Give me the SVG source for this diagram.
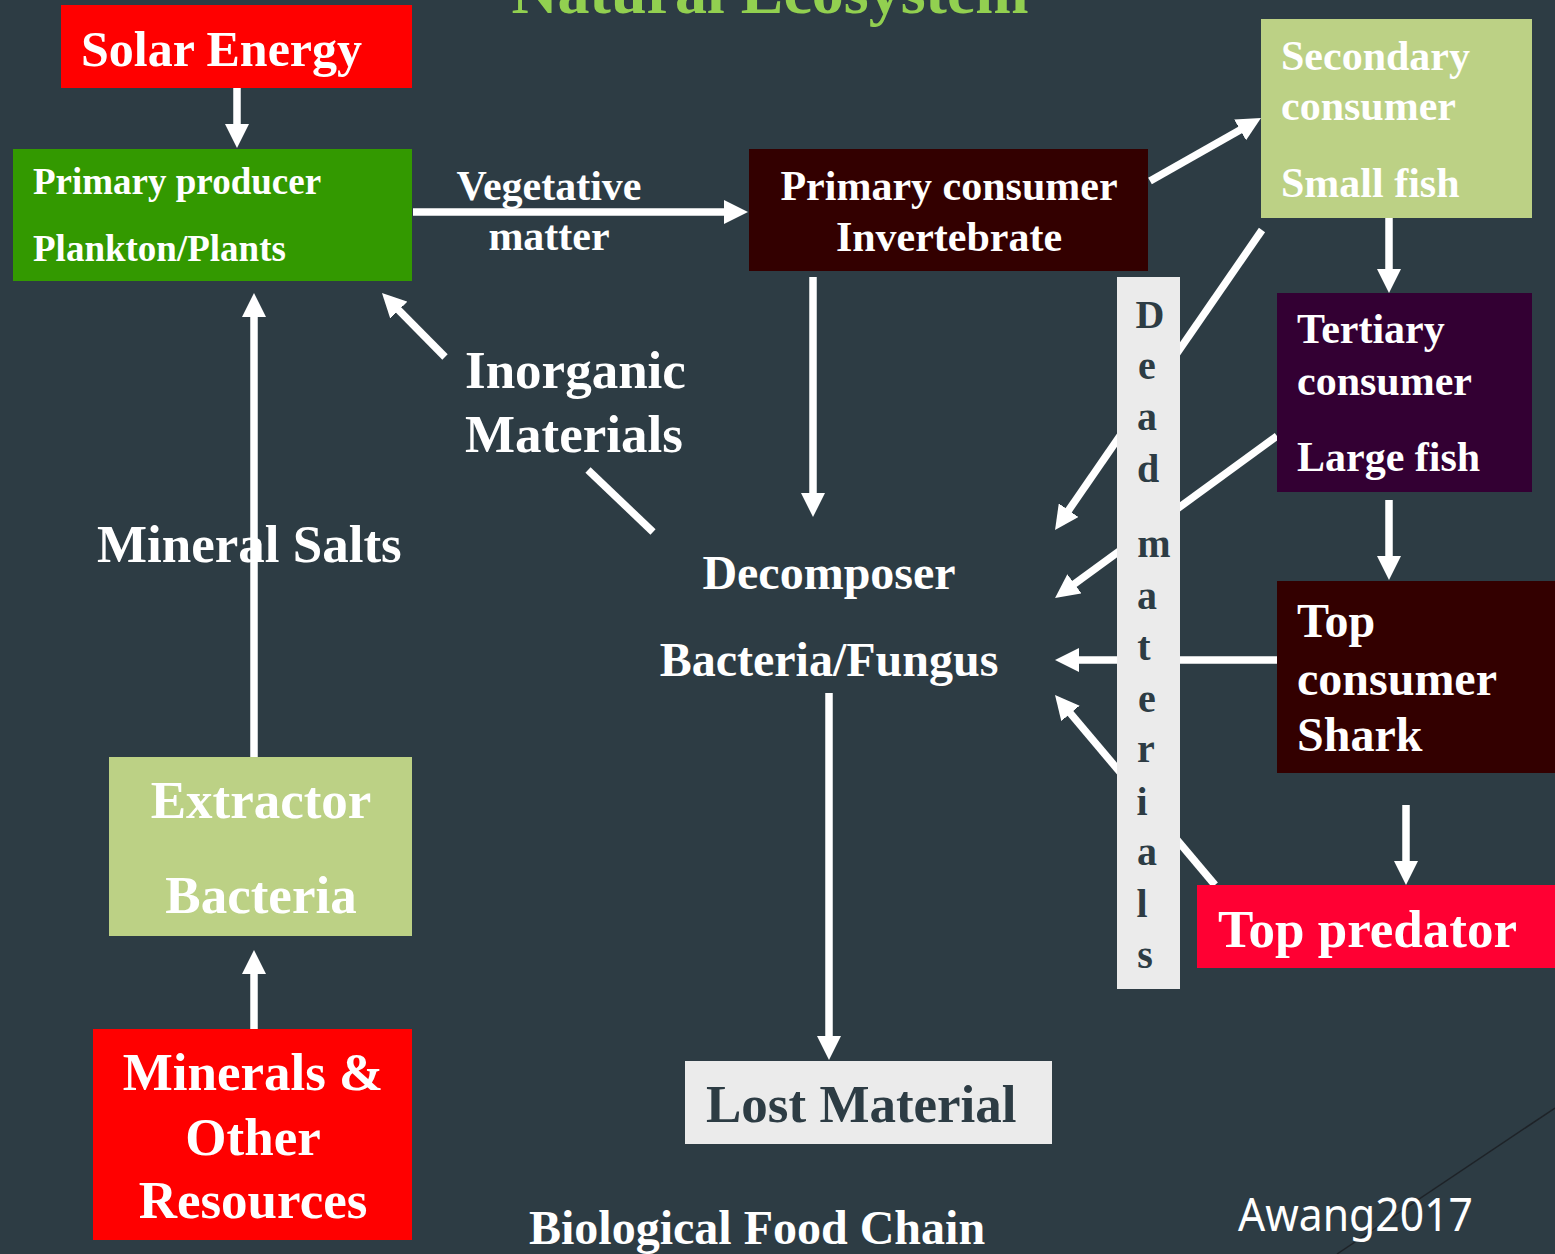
<svg xmlns="http://www.w3.org/2000/svg" width="1555" height="1254" viewBox="0 0 1555 1254">
  <defs>
    <marker id="head" viewBox="0 -12 24 24" refX="4" refY="0" markerWidth="24" markerHeight="24" markerUnits="userSpaceOnUse" orient="auto">
      <path d="M0,-12 L24,0 L0,12 Z" fill="#ffffff"/>
    </marker>
    <style>
      .t { font-family: "Liberation Serif", "Times New Roman", serif; font-weight: bold; fill: #ffffff; }
      .dk { fill: #2d3c44; }
      .arrow { stroke: #ffffff; stroke-width: 7.5; fill: none; marker-end: url(#head); }
      .plain { stroke: #ffffff; stroke-width: 7.5; fill: none; }
      .mid { text-anchor: middle; }
    </style>
  </defs>

  <!-- backdrop -->
  <rect x="0" y="0" width="1555" height="1254" fill="#2d3c44"/>
  <line x1="1555" y1="1108" x2="1337" y2="1254" stroke="#1e2328" stroke-width="1.5"/>

  <!-- heading, partly above the top edge -->
  <text class="t" x="770" y="13" font-size="64" text-anchor="middle" style="fill:#92d050">Natural Ecosystem</text>

  <!-- free labels -->
  <g id="label-mineral-salts">
    <text class="t" x="97" y="562" font-size="53">Mineral Salts</text>
  </g>
  <g id="label-inorganic">
    <text class="t" x="465" y="388" font-size="53">Inorganic</text>
    <text class="t" x="465" y="452" font-size="53">Materials</text>
  </g>
  <g id="label-vegetative">
    <text class="t mid" x="549" y="200" font-size="42">Vegetative</text>
    <text class="t mid" x="549" y="250" font-size="42">matter</text>
  </g>

  <!-- connectors -->
  <g id="connectors">
    <line class="arrow" x1="237" y1="86" x2="237" y2="128"/>
    <line class="arrow" x1="413" y1="212" x2="728" y2="212"/>
    <line class="arrow" x1="1150" y1="181" x2="1243.6" y2="127.9"/>
    <line class="arrow" x1="1389" y1="213" x2="1389" y2="273"/>
    <line class="arrow" x1="1262" y1="230" x2="1066.4" y2="513.5"/>
    <line class="arrow" x1="1277" y1="436" x2="1071.2" y2="586.2"/>
    <line class="arrow" x1="1389" y1="500" x2="1389" y2="560"/>
    <line class="arrow" x1="1277" y1="660" x2="1075" y2="660"/>
    <line class="arrow" x1="1215" y1="885" x2="1067.9" y2="710.3"/>
    <line class="arrow" x1="1406" y1="805" x2="1406" y2="865"/>
    <line class="arrow" x1="445" y1="357" x2="396" y2="307.3"/>
    <line class="plain" x1="588" y1="470" x2="653" y2="532"/>
    <line class="arrow" x1="813" y1="277" x2="813" y2="497"/>
    <line class="arrow" x1="254" y1="757" x2="254" y2="313"/>
    <line class="arrow" x1="254" y1="1029" x2="254" y2="970"/>
    <line class="arrow" x1="829" y1="693" x2="829" y2="1040"/>
  </g>

  <!-- nodes -->
  <g id="solar-energy">
    <rect x="61" y="5" width="351" height="83" fill="#ff0000"/>
    <text class="t" x="81" y="66" font-size="50">Solar Energy</text>
  </g>

  <g id="primary-producer">
    <rect x="13" y="149" width="399" height="132" fill="#339900"/>
    <text class="t" x="33" y="194" font-size="37">Primary producer</text>
    <text class="t" x="33" y="261" font-size="37">Plankton/Plants</text>
  </g>

  <g id="primary-consumer">
    <rect x="749" y="149" width="399" height="122" fill="#330000"/>
    <text class="t mid" x="949" y="200" font-size="42">Primary consumer</text>
    <text class="t mid" x="949" y="251" font-size="42">Invertebrate</text>
  </g>

  <g id="secondary-consumer">
    <rect x="1261" y="19" width="271" height="199" fill="#bcd185"/>
    <text class="t" x="1281" y="70" font-size="42">Secondary</text>
    <text class="t" x="1281" y="120" font-size="42">consumer</text>
    <text class="t" x="1281" y="197" font-size="42">Small fish</text>
  </g>

  <g id="tertiary-consumer">
    <rect x="1277" y="293" width="255" height="199" fill="#330033"/>
    <text class="t" x="1297" y="343" font-size="42">Tertiary</text>
    <text class="t" x="1297" y="395" font-size="42">consumer</text>
    <text class="t" x="1297" y="471" font-size="42">Large fish</text>
  </g>

  <g id="top-consumer">
    <rect x="1277" y="581" width="278" height="192" fill="#330000"/>
    <text class="t" x="1297" y="637" font-size="48">Top</text>
    <text class="t" x="1297" y="695" font-size="48">consumer</text>
    <text class="t" x="1297" y="751" font-size="48">Shark</text>
  </g>

  <g id="top-predator">
    <rect x="1197" y="885" width="358" height="83" fill="#ff0033"/>
    <text class="t" x="1218" y="947" font-size="53">Top predator</text>
  </g>

  <g id="dead-materials">
    <rect x="1117" y="277" width="63" height="712" fill="#ebebeb"/>
    <g class="t dk mid" font-size="40">
      <text x="1150" y="328">D</text>
      <text x="1147" y="379">e</text>
      <text x="1147" y="430">a</text>
      <text x="1148" y="482">d</text>
      <text x="1154" y="557">m</text>
      <text x="1147" y="609">a</text>
      <text x="1144" y="660">t</text>
      <text x="1147" y="712">e</text>
      <text x="1146" y="762">r</text>
      <text x="1142" y="815">i</text>
      <text x="1147" y="865">a</text>
      <text x="1142" y="917">l</text>
      <text x="1145" y="968">s</text>
    </g>
  </g>

  <g id="decomposer">
    <text class="t mid" x="829" y="589" font-size="48">Decomposer</text>
    <text class="t mid" x="829" y="676" font-size="48">Bacteria/Fungus</text>
  </g>

  <g id="extractor-bacteria">
    <rect x="109" y="757" width="303" height="179" fill="#bcd185"/>
    <text class="t mid" x="261" y="818" font-size="53">Extractor</text>
    <text class="t mid" x="261" y="913" font-size="53">Bacteria</text>
  </g>

  <g id="minerals-resources">
    <rect x="93" y="1029" width="319" height="211" fill="#ff0000"/>
    <text class="t mid" x="253" y="1090" font-size="53">Minerals &amp;</text>
    <text class="t mid" x="253" y="1155" font-size="53">Other</text>
    <text class="t mid" x="253" y="1218" font-size="53">Resources</text>
  </g>

  <g id="lost-material">
    <rect x="685" y="1061" width="367" height="83" fill="#ebebeb"/>
    <text class="t dk" x="706" y="1122" font-size="53">Lost Material</text>
  </g>

  <!-- caption and credit -->
  <text class="t" x="529" y="1244" font-size="48">Biological Food Chain</text>
  <text x="1238" y="1231" font-size="46" font-family="'Noto Sans', 'DejaVu Sans', sans-serif" fill="#ffffff" textLength="235" lengthAdjust="spacingAndGlyphs">Awang2017</text>
</svg>
